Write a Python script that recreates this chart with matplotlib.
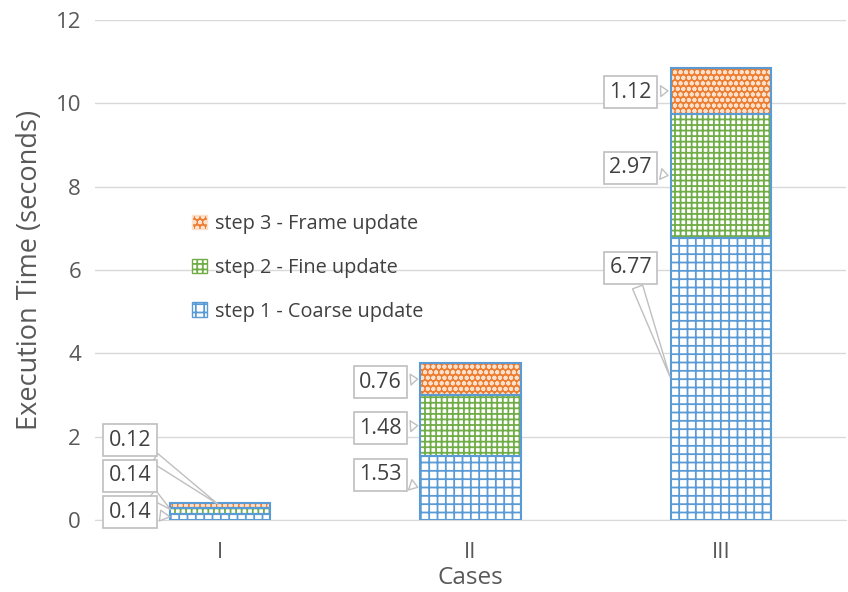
import matplotlib
matplotlib.use("Agg")
import matplotlib.pyplot as plt
from matplotlib.patches import Patch

plt.rcParams['font.family'] = ['Open Sans', 'DejaVu Sans']
plt.rcParams['hatch.linewidth'] = 1.3

cases = ["I", "II", "III"]
step1 = [0.14, 1.53, 6.77]
step2 = [0.14, 1.48, 2.97]
step3 = [0.12, 0.76, 1.12]
series_names = ["step 1 - Coarse update", "step 2 - Fine update", "step 3 - Frame update"]

blue = "#5B9BD5"
green = "#70AD47"
orange = "#ED7D31"
text_col = "#595959"
grid_col = "#D9D9D9"

fig = plt.figure(figsize=(8.48, 5.92), dpi=100)
ax = fig.add_axes([95 / 848, 72 / 592, 751 / 848, 500 / 592])

x = list(range(len(cases)))
width = 0.4

styles = [
    dict(facecolor="white", edgecolor=blue, hatch="++"),
    dict(facecolor="white", edgecolor=green, hatch="+++"),
    dict(facecolor=orange, edgecolor="#FBE0CC", hatch="ooo"),
]

bottoms = [0.0] * len(cases)
all_series = [step1, step2, step3]
for vals, st in zip(all_series, styles):
    ax.bar(x, vals, width, bottom=bottoms, linewidth=0, zorder=2, **st)
    ax.bar(x, vals, width, bottom=bottoms, fill=False, edgecolor=blue,
           linewidth=1.5, zorder=3)
    bottoms = [b + v for b, v in zip(bottoms, vals)]

# callout labels: (case index, series index, label y, target x offset)
callouts = [
    (0, 2, 1.92, 0.0),
    (0, 1, 1.06, -0.19),
    (0, 0, 0.19, -0.19),
    (1, 2, 3.31, -0.2),
    (1, 1, 2.2, -0.2),
    (1, 0, 1.08, -0.2),
    (2, 2, 10.27, -0.2),
    (2, 1, 8.45, -0.2),
    (2, 0, 6.05, -0.2),
]
for ci, si, ly, dx in callouts:
    base = sum(all_series[k][ci] for k in range(si))
    val = all_series[si][ci]
    target_y = base + val / 2
    ax.annotate(f"{val:.2f}", xy=(ci + dx, target_y), xytext=(ci - 0.36, ly),
                ha="center", va="center", fontsize=15.5, color="#404040",
                bbox=dict(boxstyle="square,pad=0.25", fc="white", ec="#BFBFBF", lw=1.2),
                arrowprops=dict(arrowstyle="wedge,tail_width=0.5,shrink_factor=0.5",
                                fc="white", ec="#BFBFBF", lw=1.0),
                zorder=5)

ax.set_xlim(-0.5, 2.5)
ax.set_ylim(0, 12)
ax.set_yticks(range(0, 13, 2))
ax.set_xticks(x)
ax.set_xticklabels(cases)
ax.tick_params(axis="both", length=0, labelsize=16, labelcolor=text_col)
ax.tick_params(axis="x", pad=16)
ax.tick_params(axis="y", pad=10)
ax.grid(axis="y", color=grid_col, linewidth=1.0, zorder=0)
ax.set_axisbelow(True)
for s in ["top", "right", "left"]:
    ax.spines[s].set_visible(False)
ax.spines["bottom"].set_color(grid_col)

ax.set_ylabel("Execution Time (seconds)", fontsize=19.5, color=text_col, labelpad=8)
ax.set_xlabel("Cases", fontsize=17.5, color=text_col, labelpad=2)

handles = [Patch(label=n, linewidth=1.0, **st) for n, st in zip(series_names, styles)][::-1]
leg = fig.legend(handles=handles, loc="upper left",
                 bbox_to_anchor=(192 / 848, 1 - 214 / 592), frameon=False,
                 fontsize=14.3, labelspacing=1.2, handlelength=0.75, handleheight=0.75,
                 handletextpad=0.4, borderpad=0, borderaxespad=0)
for t in leg.get_texts():
    t.set_color("#404040")

fig.savefig("out.png", dpi=100)
